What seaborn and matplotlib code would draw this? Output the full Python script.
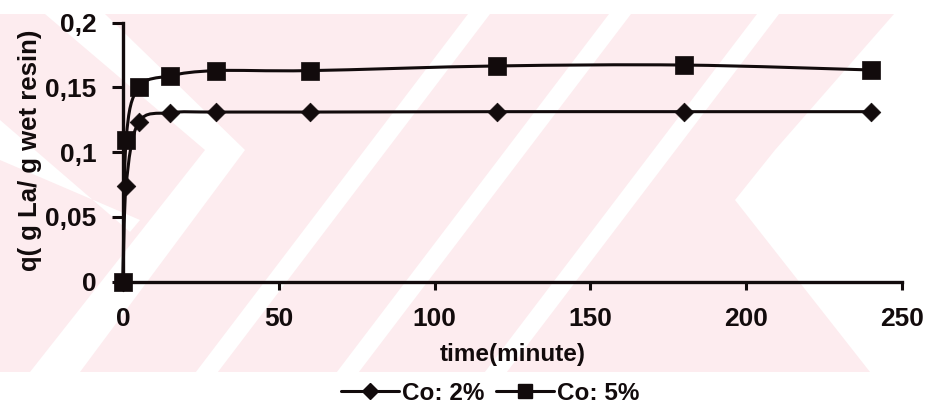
import numpy as np
import matplotlib
matplotlib.use("Agg")
import matplotlib.pyplot as plt
import seaborn as sns
from matplotlib.path import Path
from matplotlib.patches import PathPatch, Polygon
from matplotlib.lines import Line2D
from matplotlib.ticker import FuncFormatter, FixedLocator

# ---------------- data ----------------
time_min = [0, 1, 5, 15, 30, 60, 120, 180, 240]
q_co2 = [0, 0.074, 0.123, 0.1305, 0.131, 0.131, 0.1313, 0.1313, 0.1313]
q_co5 = [0, 0.1095, 0.150, 0.159, 0.163, 0.163, 0.1666, 0.1673, 0.1635]
series_labels = ["Co: 2%", "Co: 5%"]
x_ticks = [0, 50, 100, 150, 200, 250]
y_ticks = [0, 0.05, 0.1, 0.15, 0.2]
x_label = "time(minute)"
y_label = "q( g La/ g wet resin)"

# ---------------- style ----------------
sns.set_theme(style="white")
plt.rcParams['font.family'] = ['Liberation Sans', 'DejaVu Sans']
plt.rcParams['font.weight'] = 'bold'

W, H = 928, 413
fig = plt.figure(figsize=(W / 100, H / 100), dpi=100)
fig.patch.set_facecolor('white')
INK = '#120b0c'
PINK = '#fdecef'


def fpx(pts):
    return [(x / W, 1 - y / H) for x, y in pts]


# --------- faint background watermark (decoration) ---------
fig.add_artist(Polygon(fpx([(0, 14), (928, 14), (928, 372), (0, 372)]),
                       closed=True, facecolor=PINK, edgecolor='none',
                       transform=fig.transFigure, zorder=-10))
white_cuts = []
slope = 0.76
for t in [468, 609, 757]:
    w = 22
    white_cuts.append([(t, 14), (t + w, 14), (t + w - 358 * slope, 372), (t - 358 * slope, 372)])
# upper-left chevrons
white_cuts.append([(45, 14), (105, 14), (245, 150), (80, 372), (30, 372), (205, 150)])
white_cuts.append([(0, 120), (0, 160), (140, 220), (130, 232)])
# right side open area
white_cuts.append([(894, 14), (928, 14), (928, 372), (870, 372), (735, 200), (775, 150)])
for poly in white_cuts:
    fig.add_artist(Polygon(fpx(poly), closed=True, facecolor='white', edgecolor='none',
                           transform=fig.transFigure, zorder=-9))

# ---------------- axes ----------------
ax = fig.add_axes([123 / W, 1 - 281.7 / H, (902 - 123) / W, (281.7 - 22.7) / H])
ax.patch.set_alpha(0)
ax.set_xlim(0, 250)
ax.set_ylim(0, 0.2)
sns.despine(ax=ax)
for s in ['left', 'bottom']:
    ax.spines[s].set_linewidth(2.4)
    ax.spines[s].set_color(INK)

ax.xaxis.set_major_locator(FixedLocator(x_ticks))
ax.yaxis.set_major_locator(FixedLocator(y_ticks))
ax.yaxis.set_major_formatter(FuncFormatter(lambda v, p: ('%g' % v).replace('.', ',')))
ax.tick_params(axis='x', direction='out', length=6, width=2.2, pad=12, labelsize=19,
               colors=INK, bottom=True)
ax.tick_params(axis='y', direction='out', length=8, width=2.2, pad=11, labelsize=19,
               colors=INK, left=True)
for lab in ax.get_xticklabels() + ax.get_yticklabels():
    lab.set_fontweight('bold')


def smooth_path(xs, ys):
    pts = ax.transData.transform(np.column_stack([xs, ys]))
    n = len(pts)
    verts = [pts[0]]
    codes = [Path.MOVETO]
    for i in range(n - 1):
        p0 = pts[i - 1] if i > 0 else pts[i]
        p1 = pts[i]
        p2 = pts[i + 1]
        p3 = pts[i + 2] if i + 2 < n else pts[i + 1]
        verts += [p1 + (p2 - p0) / 6, p2 - (p3 - p1) / 6, p2]
        codes += [Path.CURVE4] * 3
    verts = ax.transData.inverted().transform(np.array(verts))
    return Path(verts, codes)


markers = ['D', 's']
msizes = [9.5, 12.5]
for lab, qs, mk, ms in zip(series_labels, [q_co2, q_co5], markers, msizes):
    ax.add_patch(PathPatch(smooth_path(time_min, qs), fill=False, edgecolor=INK,
                           linewidth=2.2, zorder=2, clip_on=False))
    sns.scatterplot(x=time_min, y=qs, marker=mk, s=ms ** 2, color=INK, edgecolor=INK,
                    linewidth=0.5, zorder=3, ax=ax, legend=False, clip_on=False)

ax.set_xlabel(x_label, fontsize=17.5, fontweight='bold', color=INK)
ax.xaxis.set_label_coords(0.5, (281.7 - 355) / 259)
ax.xaxis.label.set_va('center')
ax.set_ylabel(y_label, fontsize=18.5, fontweight='bold', color=INK)
ax.yaxis.set_label_coords((30 - 123) / 779, (281.7 - 150) / 259)
ax.yaxis.label.set_va('center')
ax.yaxis.label.set_ha('center')

handles = [Line2D([], [], color=INK, lw=2.2, marker=m, markersize=s * 0.85,
                  markerfacecolor=INK, markeredgecolor=INK)
           for m, s in zip(markers, msizes)]
leg = fig.legend(handles, series_labels, loc='center', bbox_to_anchor=(490 / W, 1 - 393 / H),
                 ncol=2, frameon=False, fontsize=17.5, handlelength=2.4, handletextpad=0.1,
                 columnspacing=0.5, borderpad=0)
for t in leg.get_texts():
    t.set_fontweight('bold')
    t.set_color(INK)

fig.savefig('out.png', dpi=100)
